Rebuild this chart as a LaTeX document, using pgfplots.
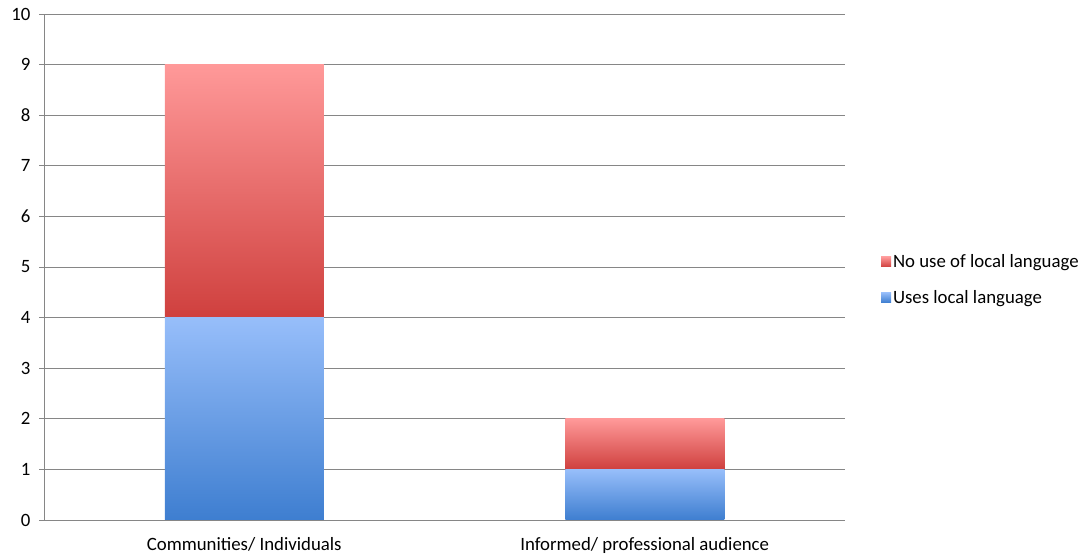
\documentclass[border=0pt]{standalone}
\usepackage{fontspec}
\setmainfont{Carlito}
\usepackage{pgfplots}
\pgfplotsset{compat=1.18}

\definecolor{gridgray}{RGB}{134,134,134}
\definecolor{redtop}{RGB}{255,153,153}
\definecolor{redbot}{RGB}{207,64,62}
\definecolor{bluetop}{RGB}{151,190,250}
\definecolor{bluebot}{RGB}{62,126,208}

% shared frame for both layers, so each bar gets its own gradient
\pgfplotsset{
  chartframe/.style={
    at={(0,0)}, anchor=south west,
    scale only axis, width=801pt, height=506pt,
    ymin=0, ymax=10, xmin=-0.5, xmax=1.5,
    ybar stacked, bar width=159pt,
  },
  usesbar/.style={draw=none, top color=bluetop, bottom color=bluebot},
  nousebar/.style={draw=none, top color=redtop, bottom color=redbot},
}

\begin{document}
\begin{tikzpicture}[x=1pt,y=1pt]
\useasboundingbox (-44,-39) rectangle (1038,520);
\begin{axis}[
  chartframe,
  font=\fontsize{18.8}{22}\selectfont,
  /pgf/number format/assume math mode=true,
  ytick={0,1,...,10},
  yticklabel style={xshift=-5pt},
  xtick={0,1},
  xticklabels={Communities/ Individuals, Informed/ professional audience},
  xticklabel style={yshift=-9pt},
  major x tick style={draw=none},
  extra x ticks={-0.5,0.5,1.5},
  extra x tick labels={},
  extra x tick style={grid=none, major tick length=5pt,
    tick style={draw=gridgray, line width=0.9pt}},
  tick align=outside,
  major tick length=5pt,
  y tick style={draw=gridgray, line width=0.9pt},
  axis x line*=bottom, axis y line*=left,
  axis line style={draw=gridgray, line width=0.9pt},
  ymajorgrids,
  grid style={draw=gridgray, line width=0.9pt},
  reverse legend,
  legend style={draw=none, fill=none, at={(1.041,0.475)}, anchor=west,
    row sep=17pt, font=\fontsize{18.8}{22}\selectfont,
    cells={anchor=west}},
  legend image code/.code={\fill[#1] (0pt,-5pt) rectangle (10pt,5pt);},
]
\addplot[usesbar] coordinates {(0,4)};
\addlegendentry{Uses local language}
\addplot[nousebar] coordinates {(0,5)};
\addlegendentry{No use of local language}
\end{axis}
\begin{axis}[chartframe, hide axis]
\addplot[usesbar] coordinates {(1,1)};
\addplot[nousebar] coordinates {(1,1)};
\end{axis}
\end{tikzpicture}
\end{document}
